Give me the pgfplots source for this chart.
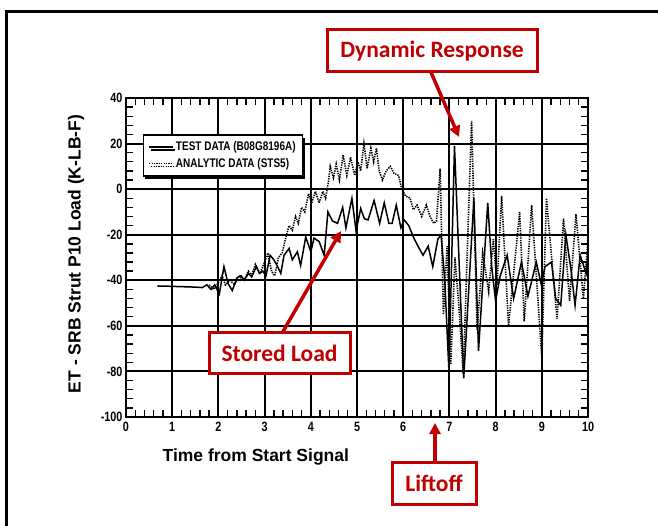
\documentclass[border=0pt]{standalone}
\usepackage{pgfplots}
\pgfplotsset{compat=1.18}
\usetikzlibrary{shadows,arrows.meta}
\usepackage{fontspec}
\setmainfont{Liberation Sans}
\newfontfamily\condfont{Liberation Sans}[FakeStretch=0.8]
\newfontfamily\calfont{Carlito}
\definecolor{annred}{RGB}{192,0,0}

\begin{document}
\begin{tikzpicture}[x=1pt,y=1pt]
\path[use as bounding box] (0,0) rectangle (658,525);
\draw[line width=3pt] (6,-5) -- (6,513) -- (665,513);

\begin{axis}[
    at={(126pt,108pt)}, anchor=south west,
    width=462pt, height=319pt, scale only axis,
    xmin=0, xmax=10, ymin=-100, ymax=40,
    xtick={0,...,10}, ytick={-100,-80,...,40},
    minor x tick num=4, minor y tick num=4,
    tick align=inside,
    major tick length=0pt, minor tick length=7pt,
    grid=major,
    major grid style={line width=1.9pt, black},
    axis line style={line width=2.3pt},
    every tick/.style={black, line width=1.4pt},
    tick label style={
        font=\condfont\bfseries\fontsize{13.5}{14}\selectfont,
        /pgf/number format/assume math mode=true
    },
    xticklabel style={yshift=-2pt},
    xlabel={Time from Start Signal},
    ylabel={ET - SRB Strut P10 Load (K-LB-F)},
    xlabel style={at={(axis description cs:0.281,-0.125)}, anchor=center,
        font=\bfseries\fontsize{17.5}{20}\selectfont},
    ylabel style={at={(axis description cs:-0.108,0.511)}, anchor=center,
        font=\bfseries\fontsize{17.5}{20}\selectfont},
    legend style={at={(axis description cs:0.036,0.887)}, anchor=north west,
        draw=black, line width=1.5pt, fill=white,
        drop shadow={shadow xshift=2pt, shadow yshift=-3pt, fill=black, opacity=1},
        font=\condfont\bfseries\fontsize{12.5}{14}\selectfont,
        inner xsep=5pt, inner ysep=5pt, row sep=2pt},
    legend cell align=left,
    legend image code/.code={\draw[#1] (0pt,0pt) -- (24pt,0pt);},
]
\addplot[black, line width=1.5pt] coordinates {
    (0.68,-42.5) (0.9,-42.6) (1.2,-42.8) (1.5,-43) (1.65,-43.2) (1.75,-42)
    (1.84,-44) (1.92,-42) (2.02,-46) (2.12,-34) (2.21,-41.5) (2.3,-44.5)
    (2.4,-39) (2.49,-38) (2.56,-40) (2.65,-37) (2.72,-38.5) (2.82,-34)
    (2.89,-37) (2.96,-36) (3.03,-38) (3.12,-29) (3.2,-31) (3.27,-33.5)
    (3.35,-37) (3.42,-29) (3.53,-26) (3.6,-31) (3.71,-27.5) (3.78,-33.5)
    (3.89,-21) (4.0,-27.5) (4.07,-21.5) (4.18,-23) (4.29,-29) (4.37,-10)
    (4.47,-14) (4.58,-15) (4.69,-8) (4.76,-17) (4.89,-4) (4.98,-18.5)
    (5.08,-8.5) (5.16,-13) (5.24,-13.5) (5.37,-5) (5.49,-15) (5.59,-6)
    (5.69,-15) (5.76,-15) (5.85,-7) (5.95,-17) (6.02,-13.5) (6.12,-16)
    (6.22,-21) (6.32,-25) (6.43,-29) (6.54,-25) (6.64,-34) (6.75,-22)
    (6.82,-20) (6.9,-40) (6.99,-80) (7.11,19) (7.31,-83) (7.53,-4)
    (7.63,-71) (7.83,-6) (7.92,-35) (8.0,-49) (8.1,-38) (8.25,-29)
    (8.39,-48) (8.56,-32) (8.7,-47) (8.88,-32) (8.99,-42) (9.07,-34)
    (9.21,-32) (9.3,-48) (9.41,-51) (9.52,-20) (9.63,-35) (9.72,-51)
    (9.83,-29) (9.96,-37) (10,-28)
};
\addlegendentry{TEST DATA (B08G8196A)}
\addplot[black, line width=1.6pt, dash pattern=on 1.3pt off 1.1pt] coordinates {
    (1.8,-42) (1.9,-44) (2.0,-41) (2.08,-38) (2.15,-42) (2.25,-40)
    (2.35,-42) (2.44,-38) (2.55,-40) (2.65,-36) (2.72,-38) (2.8,-33)
    (2.9,-37) (3.0,-32) (3.07,-28) (3.15,-36) (3.22,-38) (3.3,-30)
    (3.38,-28) (3.45,-22) (3.53,-16) (3.6,-18) (3.67,-12) (3.73,-15)
    (3.8,-8) (3.87,-10) (3.95,-2) (4.02,-6) (4.1,-1) (4.18,-6)
    (4.26,-1) (4.32,-4) (4.38,3) (4.42,10) (4.49,5) (4.55,11)
    (4.62,4) (4.7,15) (4.78,6) (4.86,14) (4.95,6) (5.02,12)
    (5.08,8) (5.15,20) (5.22,9) (5.3,18) (5.36,12) (5.42,18)
    (5.48,8) (5.55,4) (5.63,8) (5.72,10) (5.8,7) (5.9,6)
    (5.97,0) (6.05,-3) (6.15,-4) (6.22,-9) (6.3,-7) (6.4,-12)
    (6.5,-7) (6.58,-12) (6.66,-15) (6.72,-14) (6.8,9) (6.87,-55)
    (6.95,-25) (7.03,-77) (7.12,-30) (7.2,-50) (7.3,-81) (7.48,30)
    (7.6,-62) (7.72,-28) (7.85,-45) (7.95,-22) (8.03,-42) (8.13,-3)
    (8.28,-60) (8.52,-10) (8.62,-58) (8.78,-7) (9.0,-74) (9.1,-4)
    (9.33,-57) (9.47,-13) (9.6,-49) (9.74,-11) (9.9,-48) (10.0,-22)
};
\addlegendentry{ANALYTIC DATA (STS5)}
\end{axis}

% annotations
\draw[annred, line width=3.5pt, -{Triangle[length=11pt,width=11pt]}] (430,455) -- (459,388);
\draw[annred, line width=3.5pt, -{Triangle[length=11pt,width=11pt]}] (281,190) -- (341,294);
\draw[annred, line width=3.5pt, -{Triangle[length=11pt,width=11pt]}] (435,60) -- (435,102);
\draw[annred, line width=3pt, fill=white] (327,453) rectangle (537,495);
\node[annred, font=\calfont\bfseries\fontsize{23.5}{26}\selectfont] at (432,474) {Dynamic Response};
\draw[annred, line width=3pt, fill=white] (209,152) rectangle (350,192);
\node[annred, font=\calfont\bfseries\fontsize{23.5}{26}\selectfont] at (279.5,172) {Stored Load};
\draw[annred, line width=3pt, fill=white] (392,21) rectangle (476,63);
\node[annred, font=\calfont\bfseries\fontsize{23.5}{26}\selectfont] at (434,42) {Liftoff};
\end{tikzpicture}
\end{document}
